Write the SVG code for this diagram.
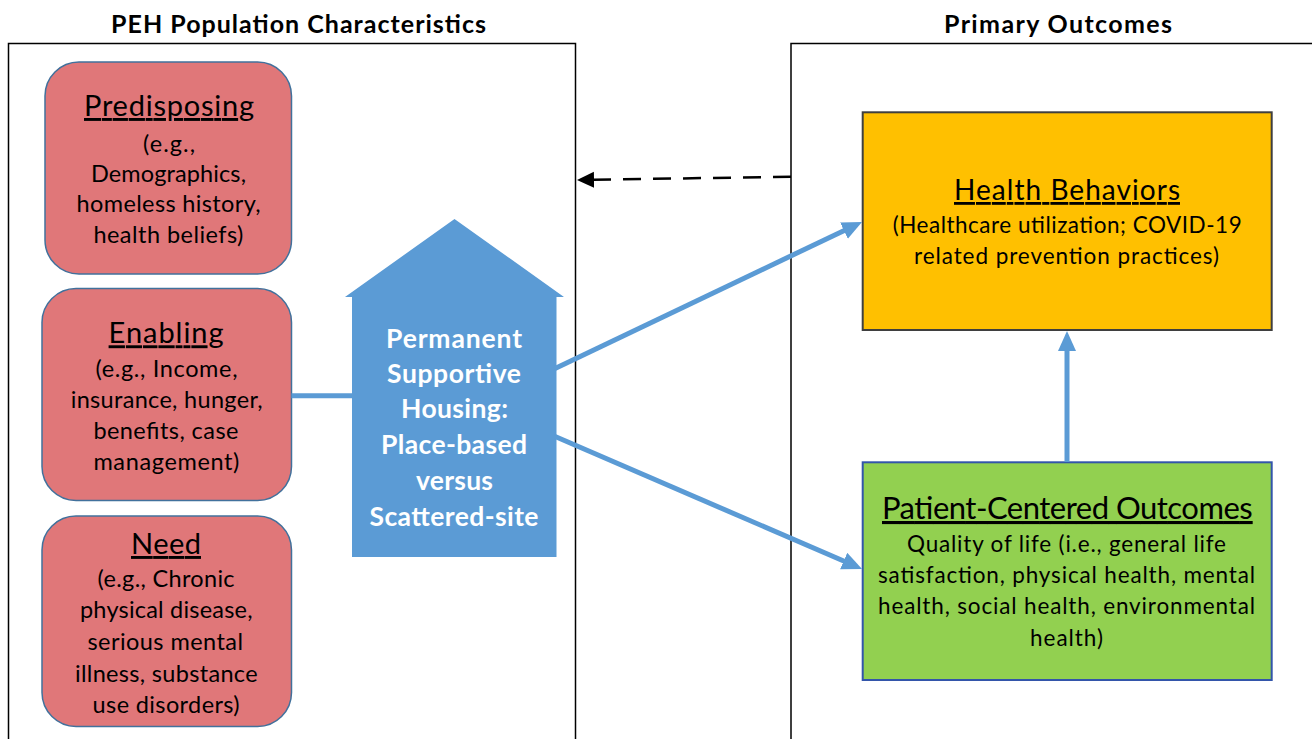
<svg xmlns="http://www.w3.org/2000/svg" width="1312" height="739" viewBox="0 0 1312 739">
<style>
text{font-family:Lato,"Liberation Sans","DejaVu Sans",sans-serif;fill:#000}
.title{font-size:25px;font-weight:bold}
.head{font-size:29px;text-decoration:underline}
.sub{font-size:23.5px}
.house{font-size:26.5px;font-weight:bold;fill:#fff}
.panel{fill:none;stroke:#000;stroke-width:1.5}
.red{fill:#E07779;stroke:#41719C;stroke-width:1.5}
.conn{stroke:#5B9BD5;stroke-width:5;fill:none}
</style>
<defs>
<marker id="blueHead" markerUnits="userSpaceOnUse" markerWidth="22" markerHeight="20" refX="12" refY="9" orient="auto"><path d="M0,0 L20,9 L0,18 z" fill="#5B9BD5"/></marker>
<marker id="blackHead" markerUnits="userSpaceOnUse" markerWidth="19" markerHeight="18" refX="9" refY="8" orient="auto"><path d="M0,0 L17,8 L0,16 z" fill="#000"/></marker>
</defs>
<rect width="1312" height="739" fill="#fff"/>
<g id="panel-left">
<rect class="panel" x="8.5" y="43.5" width="567" height="720"/>
<text class="title" x="111" y="33" textLength="375">PEH Population Characteristics</text>
</g>
<g id="panel-right">
<rect class="panel" x="791" y="43.5" width="540" height="720"/>
<text class="title" x="944" y="33" textLength="228">Primary Outcomes</text>
</g>
<g id="predisposing">
<rect class="red" x="45" y="62" width="246.5" height="212" rx="34"/>
<text class="head" x="84" y="116" textLength="170">Predisposing</text>
<text class="sub" x="143" y="151.5" textLength="52">(e.g.,</text>
<text class="sub" x="91" y="181.7" textLength="155">Demographics,</text>
<text class="sub" x="76.6" y="212.3" textLength="184">homeless history,</text>
<text class="sub" x="93.4" y="243.3" textLength="150">health beliefs)</text>
</g>
<g id="enabling">
<rect class="red" x="42" y="288.5" width="249.5" height="212" rx="34"/>
<text class="head" x="108.6" y="343.3" textLength="115">Enabling</text>
<text class="sub" x="95.5" y="376.7" textLength="142">(e.g., Income,</text>
<text class="sub" x="70.7" y="408" textLength="192">insurance, hunger,</text>
<text class="sub" x="93.4" y="439" textLength="145">benefits, case</text>
<text class="sub" x="93.4" y="470" textLength="146">management)</text>
</g>
<g id="need">
<rect class="red" x="42" y="516" width="249.5" height="210.5" rx="34"/>
<text class="head" x="131" y="554" textLength="70">Need</text>
<text class="sub" x="97.6" y="586.7" textLength="137">(e.g., Chronic</text>
<text class="sub" x="80" y="618" textLength="172.5">physical disease,</text>
<text class="sub" x="87.5" y="650" textLength="155.5">serious mental</text>
<text class="sub" x="75" y="681.7" textLength="182.6">illness, substance</text>
<text class="sub" x="92.6" y="712.7" textLength="147">use disorders)</text>
</g>
<g id="housing">
<path d="M454.5,219 L564,297 L556.5,297 L556.5,557 L352,557 L352,297 L345,297 Z" fill="#5B9BD5"/>
<text class="house" x="386" y="348.3" textLength="136">Permanent</text>
<text class="house" x="387" y="383" textLength="134">Supportive</text>
<text class="house" x="401" y="418" textLength="107">Housing:</text>
<text class="house" x="381" y="454" textLength="146">Place-based</text>
<text class="house" x="416" y="490" textLength="77">versus</text>
<text class="house" x="369.5" y="525.7" textLength="169">Scattered-site</text>
</g>
<g id="health-behaviors">
<rect x="862.7" y="112.3" width="409" height="217.7" fill="#FFC000" stroke="#3F3F3F" stroke-width="2"/>
<text x="954" y="200" textLength="226" style="font-size:28px;text-decoration:underline">Health Behaviors</text>
<text x="892.7" y="233.3" textLength="349" style="font-size:22.5px">(Healthcare utilization; COVID-19</text>
<text x="914" y="264" textLength="305" style="font-size:22.5px">related prevention practices)</text>
</g>
<g id="patient-centered">
<rect x="862.7" y="462.3" width="409" height="217.7" fill="#92D050" stroke="#3355AA" stroke-width="2"/>
<text x="882" y="519" textLength="370.7" style="font-size:31px;text-decoration:underline">Patient-Centered Outcomes</text>
<text x="907" y="551.7" textLength="319" style="font-size:22.5px">Quality of life (i.e., general life</text>
<text x="878" y="582.7" textLength="377" style="font-size:22.5px">satisfaction, physical health, mental</text>
<text x="878" y="614.3" textLength="377" style="font-size:22.5px">health, social health, environmental</text>
<text x="1030" y="646" textLength="73" style="font-size:22.5px">health)</text>
</g>
<g id="connectors">
<line class="conn" x1="291.5" y1="395.7" x2="353" y2="395.7"/>
<line class="conn" x1="554" y1="369" x2="854.8" y2="225.4" marker-end="url(#blueHead)"/>
<line class="conn" x1="554" y1="436" x2="854.7" y2="565.8" marker-end="url(#blueHead)"/>
<line class="conn" x1="1067" y1="462" x2="1067" y2="339" marker-end="url(#blueHead)"/>
<line x1="791" y1="176.7" x2="585" y2="179.9" stroke="#000" stroke-width="2.5" stroke-dasharray="18 12" marker-end="url(#blackHead)"/>
</g>
</svg>
